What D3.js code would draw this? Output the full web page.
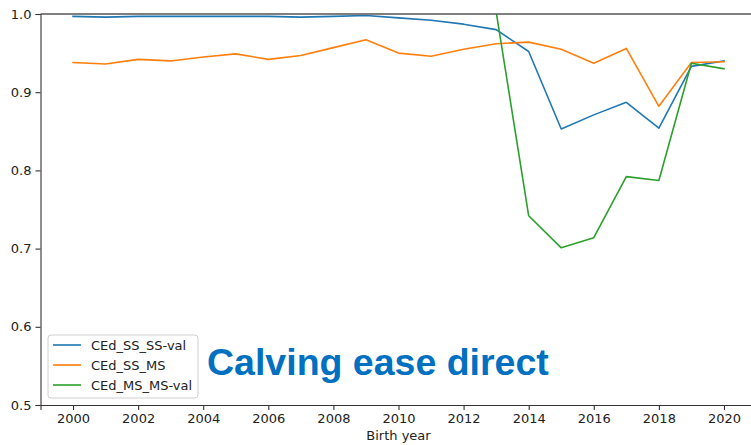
<!DOCTYPE html>
<html>
<head>
<meta charset="utf-8">
<script src="https://cdn.jsdelivr.net/npm/d3@7"></script>
<style>
  body { margin: 0; background: #fff; }
  svg { display: block; }
</style>
</head>
<body>
<div id="container"></div>
<script>
// values
let years = [2000, 2001, 2002, 2003, 2004, 2005, 2006, 2007, 2008, 2009,
             2010, 2011, 2012, 2013, 2014, 2015, 2016, 2017, 2018, 2019, 2020];

let ssSsVal = [0.997, 0.996, 0.997, 0.997, 0.997, 0.997, 0.997, 0.996, 0.997, 0.998,
               0.995, 0.992, 0.987, 0.980, 0.952, 0.853, 0.871, 0.887, 0.854, 0.933, 0.940];

let ssMs = [0.938, 0.936, 0.942, 0.940, 0.945, 0.949, 0.942, 0.947, 0.957, 0.967,
            0.950, 0.946, 0.955, 0.962, 0.964, 0.955, 0.937, 0.956, 0.882, 0.938, 0.939];

let msMsYears = [2013, 2014, 2015, 2016, 2017, 2018, 2019, 2020];
let msMsVal = [1.003, 0.742, 0.701, 0.714, 0.792, 0.787, 0.937, 0.930];

let seriesNames = ["CEd_SS_SS-val", "CEd_SS_MS", "CEd_MS_MS-val"];
let seriesColors = ["#1f77b4", "#ff7f0e", "#2ca02c"];

let yTicks = [0.5, 0.6, 0.7, 0.8, 0.9, 1.0];
let xTicks = [2000, 2002, 2004, 2006, 2008, 2010, 2012, 2014, 2016, 2018, 2020];

let w = 751;
let h = 445;
let plotLeft = 40.5;
let plotRight = 756.5;   // right spine sits just outside the picture
let plotTop = 14;
let plotBottom = 405;

let viz = d3.select("#container")
  .append("svg")
    .attr("width", w)
    .attr("height", h)
    .style("font-family", "'DejaVu Sans', sans-serif")
;

let xScale = d3.scaleLinear().domain([1999, 2021]).range([plotLeft, plotRight]);
let yScale = d3.scaleLinear().domain([0.5, 1.0]).range([plotBottom, plotTop]);

viz.append("defs").append("clipPath").attr("id", "plotClip")
  .append("rect")
    .attr("x", plotLeft).attr("y", plotTop)
    .attr("width", plotRight - plotLeft).attr("height", plotBottom - plotTop);

// build the series
let series = [
  years.map((y, i) => ({ year: y, v: ssSsVal[i] })),
  years.map((y, i) => ({ year: y, v: ssMs[i] })),
  msMsYears.map((y, i) => ({ year: y, v: msMsVal[i] }))
];

let line = d3.line()
  .x(d => xScale(d.year))
  .y(d => yScale(d.v));

let lineGroup = viz.append("g").attr("clip-path", "url(#plotClip)");
series.forEach(function(s, i){
  lineGroup.append("path")
    .datum(s)
    .attr("d", line)
    .attr("fill", "none")
    .attr("stroke", seriesColors[i])
    .attr("stroke-width", 1.6)
    .attr("stroke-linejoin", "round")
    .attr("stroke-linecap", "square");
});

// axes
let xAxis = d3.axisBottom(xScale).tickValues(xTicks).tickFormat(d3.format("d")).tickSize(5).tickPadding(4);
let xAxisGroup = viz.append("g")
  .attr("transform", "translate(0," + plotBottom + ")")
  .call(xAxis);

let yAxis = d3.axisLeft(yScale).tickValues(yTicks).tickFormat(d3.format(".1f")).tickSize(5).tickPadding(4);
let yAxisGroup = viz.append("g")
  .attr("transform", "translate(" + plotLeft + ",0)")
  .call(yAxis);

[xAxisGroup, yAxisGroup].forEach(function(g){
  g.select(".domain").attr("stroke", "#333").attr("stroke-width", 1.1);
  g.selectAll(".tick line").attr("stroke", "#333").attr("stroke-width", 1.1);
  g.selectAll(".tick text").attr("fill", "#222").attr("font-size", "13px")
    .attr("font-family", "'DejaVu Sans', sans-serif");
});

// top spine
viz.append("line")
  .attr("x1", plotLeft).attr("x2", plotRight)
  .attr("y1", plotTop).attr("y2", plotTop)
  .attr("stroke", "#555").attr("stroke-width", 1.6);

// x label
viz.append("text")
  .text("Birth year")
  .attr("x", (plotLeft + plotRight) / 2)
  .attr("y", 440)
  .attr("text-anchor", "middle")
  .attr("font-size", "13px")
  .attr("fill", "#222");

// legend
let legend = viz.append("g").attr("transform", "translate(48,335)");
legend.append("rect")
  .attr("width", 150).attr("height", 63)
  .attr("rx", 3)
  .attr("fill", "white").attr("fill-opacity", 0.8)
  .attr("stroke", "#d0d0d0");
seriesNames.forEach(function(name, i){
  let row = legend.append("g").attr("transform", "translate(0," + (10 + i * 20) + ")");
  row.append("line")
    .attr("x1", 5).attr("x2", 33)
    .attr("stroke", seriesColors[i]).attr("stroke-width", 1.6);
  row.append("text")
    .text(name)
    .attr("x", 43).attr("y", 4.5)
    .attr("font-size", "13px")
    .attr("fill", "#222");
});

// title inside plot
viz.append("text")
  .text("Calving ease direct")
  .attr("x", 207)
  .attr("y", 375)
  .attr("font-family", "'Liberation Sans', Arial, sans-serif")
  .attr("font-weight", "bold")
  .attr("font-size", "37.5px")
  .attr("fill", "#0070c0");
</script>
</body>
</html>
